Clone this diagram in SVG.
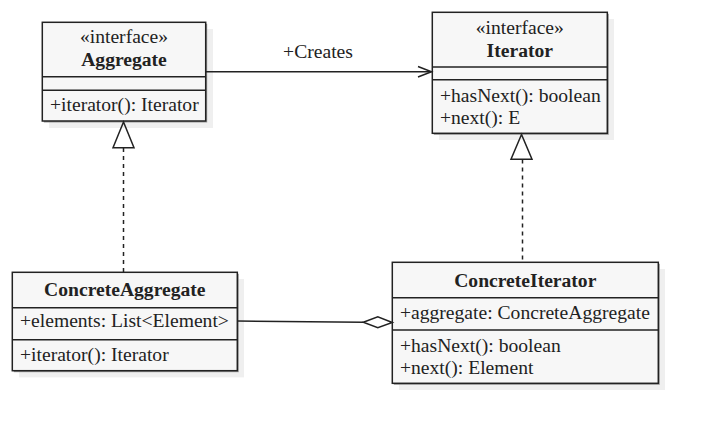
<svg xmlns="http://www.w3.org/2000/svg" width="708" height="433" viewBox="0 0 708 433">
<defs>
<style>
text{font-family:"Liberation Serif","Times New Roman",serif;font-size:19.6px;fill:#222}
.t{font-weight:bold;text-anchor:middle}
.c{text-anchor:middle}
.box{fill:#f7f7f7;stroke:#222;stroke-width:1.5}
.sh{fill:#efefef}
.sh2{fill:#9a9a9a}
.ln{stroke:#222;stroke-width:1.5;fill:none}
.dl{stroke:#222;stroke-width:1.5;fill:none;stroke-dasharray:4,4}
</style>
</defs>
<rect width="708" height="433" fill="#fff"/>
<g id="Aggregate">
<rect class="sh" x="49" y="29" width="164" height="99"/>
<rect class="sh2" x="43.8" y="23.8" width="163.4" height="98.7"/>
<rect class="box" x="42.3" y="22.3" width="163.4" height="98.7"/>
<line class="ln" x1="42.3" y1="76.7" x2="205.7" y2="76.7"/>
<line class="ln" x1="42.3" y1="90.3" x2="205.7" y2="90.3" stroke-width="2"/>
<text class="c" x="124" y="43">«interface»</text>
<text class="t" x="124" y="65.5">Aggregate</text>
<text x="50" y="110.5">+iterator(): Iterator</text>
</g>
<g id="Iterator">
<rect class="sh" x="439" y="19" width="175" height="121"/>
<rect class="sh2" x="433.8" y="13.8" width="175" height="121"/>
<rect class="box" x="432.3" y="12.3" width="175" height="121"/>
<line class="ln" x1="432.3" y1="67" x2="607.3" y2="67"/>
<line class="ln" x1="432.3" y1="79.7" x2="607.3" y2="79.7" stroke-width="2"/>
<text class="c" x="519.8" y="33.5">«interface»</text>
<text class="t" x="519.8" y="57">Iterator</text>
<text x="440" y="102">+hasNext(): boolean</text>
<text x="440" y="123.5">+next(): E</text>
</g>
<g id="ConcreteAggregate">
<rect class="sh" x="19" y="279" width="225" height="98.4"/>
<rect class="sh2" x="13.8" y="273.8" width="225" height="98.4"/>
<rect class="box" x="12.3" y="272.3" width="225" height="98.4"/>
<line class="ln" x1="12.3" y1="307.7" x2="237.3" y2="307.7"/>
<line class="ln" x1="12.3" y1="339.7" x2="237.3" y2="339.7"/>
<text class="t" x="124.8" y="296">ConcreteAggregate</text>
<text x="20" y="327">+elements: List&lt;Element&gt;</text>
<text x="20" y="360.5">+iterator(): Iterator</text>
</g>
<g id="ConcreteIterator">
<rect class="sh" x="399" y="269" width="266" height="121"/>
<rect class="sh2" x="393.8" y="263.8" width="266" height="121"/>
<rect class="box" x="392.3" y="262.3" width="266" height="121"/>
<line class="ln" x1="392.3" y1="297.7" x2="658.3" y2="297.7"/>
<line class="ln" x1="392.3" y1="330" x2="658.3" y2="330" stroke-width="2"/>
<text class="t" x="525.3" y="287">ConcreteIterator</text>
<text x="400" y="318.5">+aggregate: ConcreteAggregate</text>
<text x="400" y="352">+hasNext(): boolean</text>
<text x="400" y="373.5">+next(): Element</text>
</g>
<g id="connectors">
<line class="ln" x1="205.7" y1="71.7" x2="431.5" y2="71.7"/>
<polyline class="ln" points="418,66.5 431.5,71.7 418,77"/>
<text class="c" x="318" y="57.5">+Creates</text>
<line class="dl" x1="123.5" y1="148" x2="123.5" y2="272"/>
<polygon class="ln" fill="#fff" points="123.5,122 113,147.7 134,147.7"/>
<line class="dl" x1="522.5" y1="159.5" x2="522.5" y2="262"/>
<polygon class="ln" fill="#fff" points="521.5,134.5 511,159.3 532,159.3"/>
<line class="ln" x1="237.3" y1="321" x2="363.3" y2="322.3"/>
<polygon class="ln" fill="#fff" points="363.3,322.3 377.8,316.8 392.3,322.5 377.8,327.8"/>
</g>
</svg>
